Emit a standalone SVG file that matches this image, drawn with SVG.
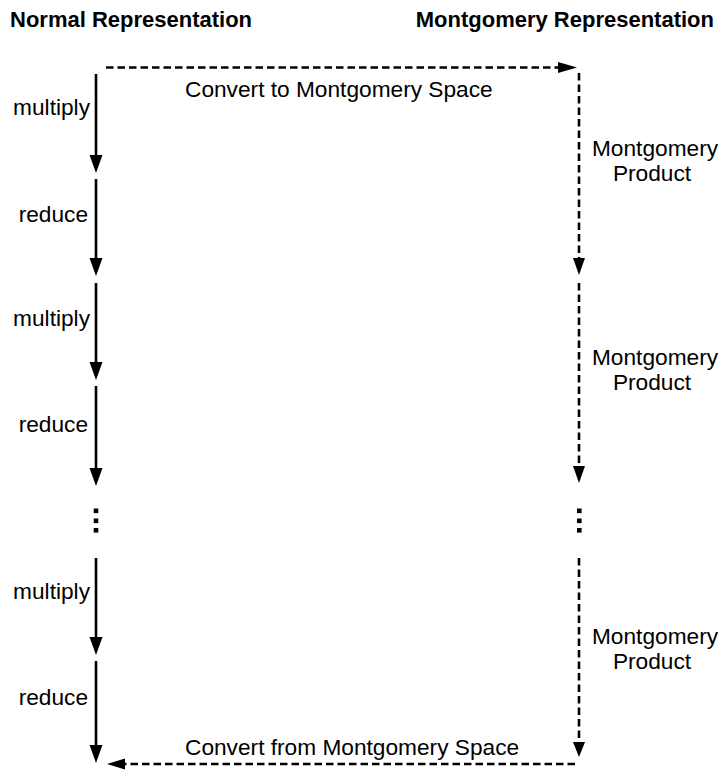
<svg xmlns="http://www.w3.org/2000/svg" width="723" height="770" viewBox="0 0 723 770">
  <style>
    text { font-family: "Liberation Sans", Arial, sans-serif; fill: #000; }
    .hdr { font-size: 22px; font-weight: bold; }
    .lbl { font-size: 22.7px; }
    .solid { stroke: #000; stroke-width: 2.6; fill: none; }
    .dash { stroke: #000; stroke-width: 2.6; fill: none; stroke-dasharray: 7.5 4; }
    .head { fill: #000; stroke: none; }
    .dot { fill: #000; }
  </style>

  <!-- column headings -->
  <g id="heading-normal">
    <text class="hdr" x="10" y="27">Normal Representation</text>
  </g>
  <g id="heading-montgomery">
    <text class="hdr" x="714" y="27" text-anchor="end">Montgomery Representation</text>
  </g>

  <!-- left column: plain arithmetic steps -->
  <g id="step-multiply-1"><text class="lbl" x="90" y="115" text-anchor="end">multiply</text></g>
  <g id="step-reduce-1"><text class="lbl" x="88" y="222" text-anchor="end">reduce</text></g>
  <g id="step-multiply-2"><text class="lbl" x="90" y="326" text-anchor="end">multiply</text></g>
  <g id="step-reduce-2"><text class="lbl" x="88" y="432" text-anchor="end">reduce</text></g>
  <g id="step-multiply-3"><text class="lbl" x="90" y="599" text-anchor="end">multiply</text></g>
  <g id="step-reduce-3"><text class="lbl" x="88" y="705" text-anchor="end">reduce</text></g>

  <!-- right column: Montgomery products -->
  <g id="mont-product-1">
    <text class="lbl" x="655" y="156" text-anchor="middle">Montgomery</text>
    <text class="lbl" x="652" y="181" text-anchor="middle">Product</text>
  </g>
  <g id="mont-product-2">
    <text class="lbl" x="655" y="365" text-anchor="middle">Montgomery</text>
    <text class="lbl" x="652" y="390" text-anchor="middle">Product</text>
  </g>
  <g id="mont-product-3">
    <text class="lbl" x="655" y="644" text-anchor="middle">Montgomery</text>
    <text class="lbl" x="652" y="669" text-anchor="middle">Product</text>
  </g>

  <!-- conversions between the two spaces -->
  <g id="convert-to"><text class="lbl" x="185" y="97">Convert to Montgomery Space</text></g>
  <g id="convert-from"><text class="lbl" x="185" y="755">Convert from Montgomery Space</text></g>

  <g id="connectors">
    <!-- left solid chain -->
    <line class="solid" x1="96" y1="74" x2="96" y2="158"/>
    <polygon class="head" points="89.5,155 102.5,155 96,173"/>
    <line class="solid" x1="96" y1="179" x2="96" y2="261"/>
    <polygon class="head" points="89.5,258 102.5,258 96,276"/>
    <line class="solid" x1="96" y1="283" x2="96" y2="365"/>
    <polygon class="head" points="89.5,362 102.5,362 96,380"/>
    <line class="solid" x1="96" y1="386" x2="96" y2="471"/>
    <polygon class="head" points="89.5,468 102.5,468 96,486"/>
    <rect class="dot" x="93.7" y="508.5" width="4.6" height="4.6"/>
    <rect class="dot" x="93.7" y="518.5" width="4.6" height="4.6"/>
    <rect class="dot" x="93.7" y="528" width="4.6" height="4.6"/>
    <line class="solid" x1="96" y1="558" x2="96" y2="640"/>
    <polygon class="head" points="89.5,637 102.5,637 96,655"/>
    <line class="solid" x1="96" y1="661" x2="96" y2="748"/>
    <polygon class="head" points="89.5,745 102.5,745 96,763"/>

    <!-- top conversion -->
    <line class="dash" x1="106" y1="67.5" x2="561" y2="67.5"/>
    <polygon class="head" points="558,62 558,73 577,67.5"/>

    <!-- right dashed chain -->
    <line class="dash" x1="579" y1="73" x2="579" y2="260"/>
    <polygon class="head" points="573,258 585,258 579,275"/>
    <line class="dash" x1="579" y1="283" x2="579" y2="468"/>
    <polygon class="head" points="573,466 585,466 579,483"/>
    <rect class="dot" x="577" y="508.5" width="4.6" height="4.6"/>
    <rect class="dot" x="577" y="518.5" width="4.6" height="4.6"/>
    <rect class="dot" x="577" y="528" width="4.6" height="4.6"/>
    <line class="dash" x1="579" y1="558" x2="579" y2="744"/>
    <polygon class="head" points="573,742 585,742 579,757"/>

    <!-- bottom conversion -->
    <line class="dash" x1="575" y1="764" x2="123" y2="764"/>
    <polygon class="head" points="125,758.5 125,769.5 107,764"/>
  </g>
</svg>
